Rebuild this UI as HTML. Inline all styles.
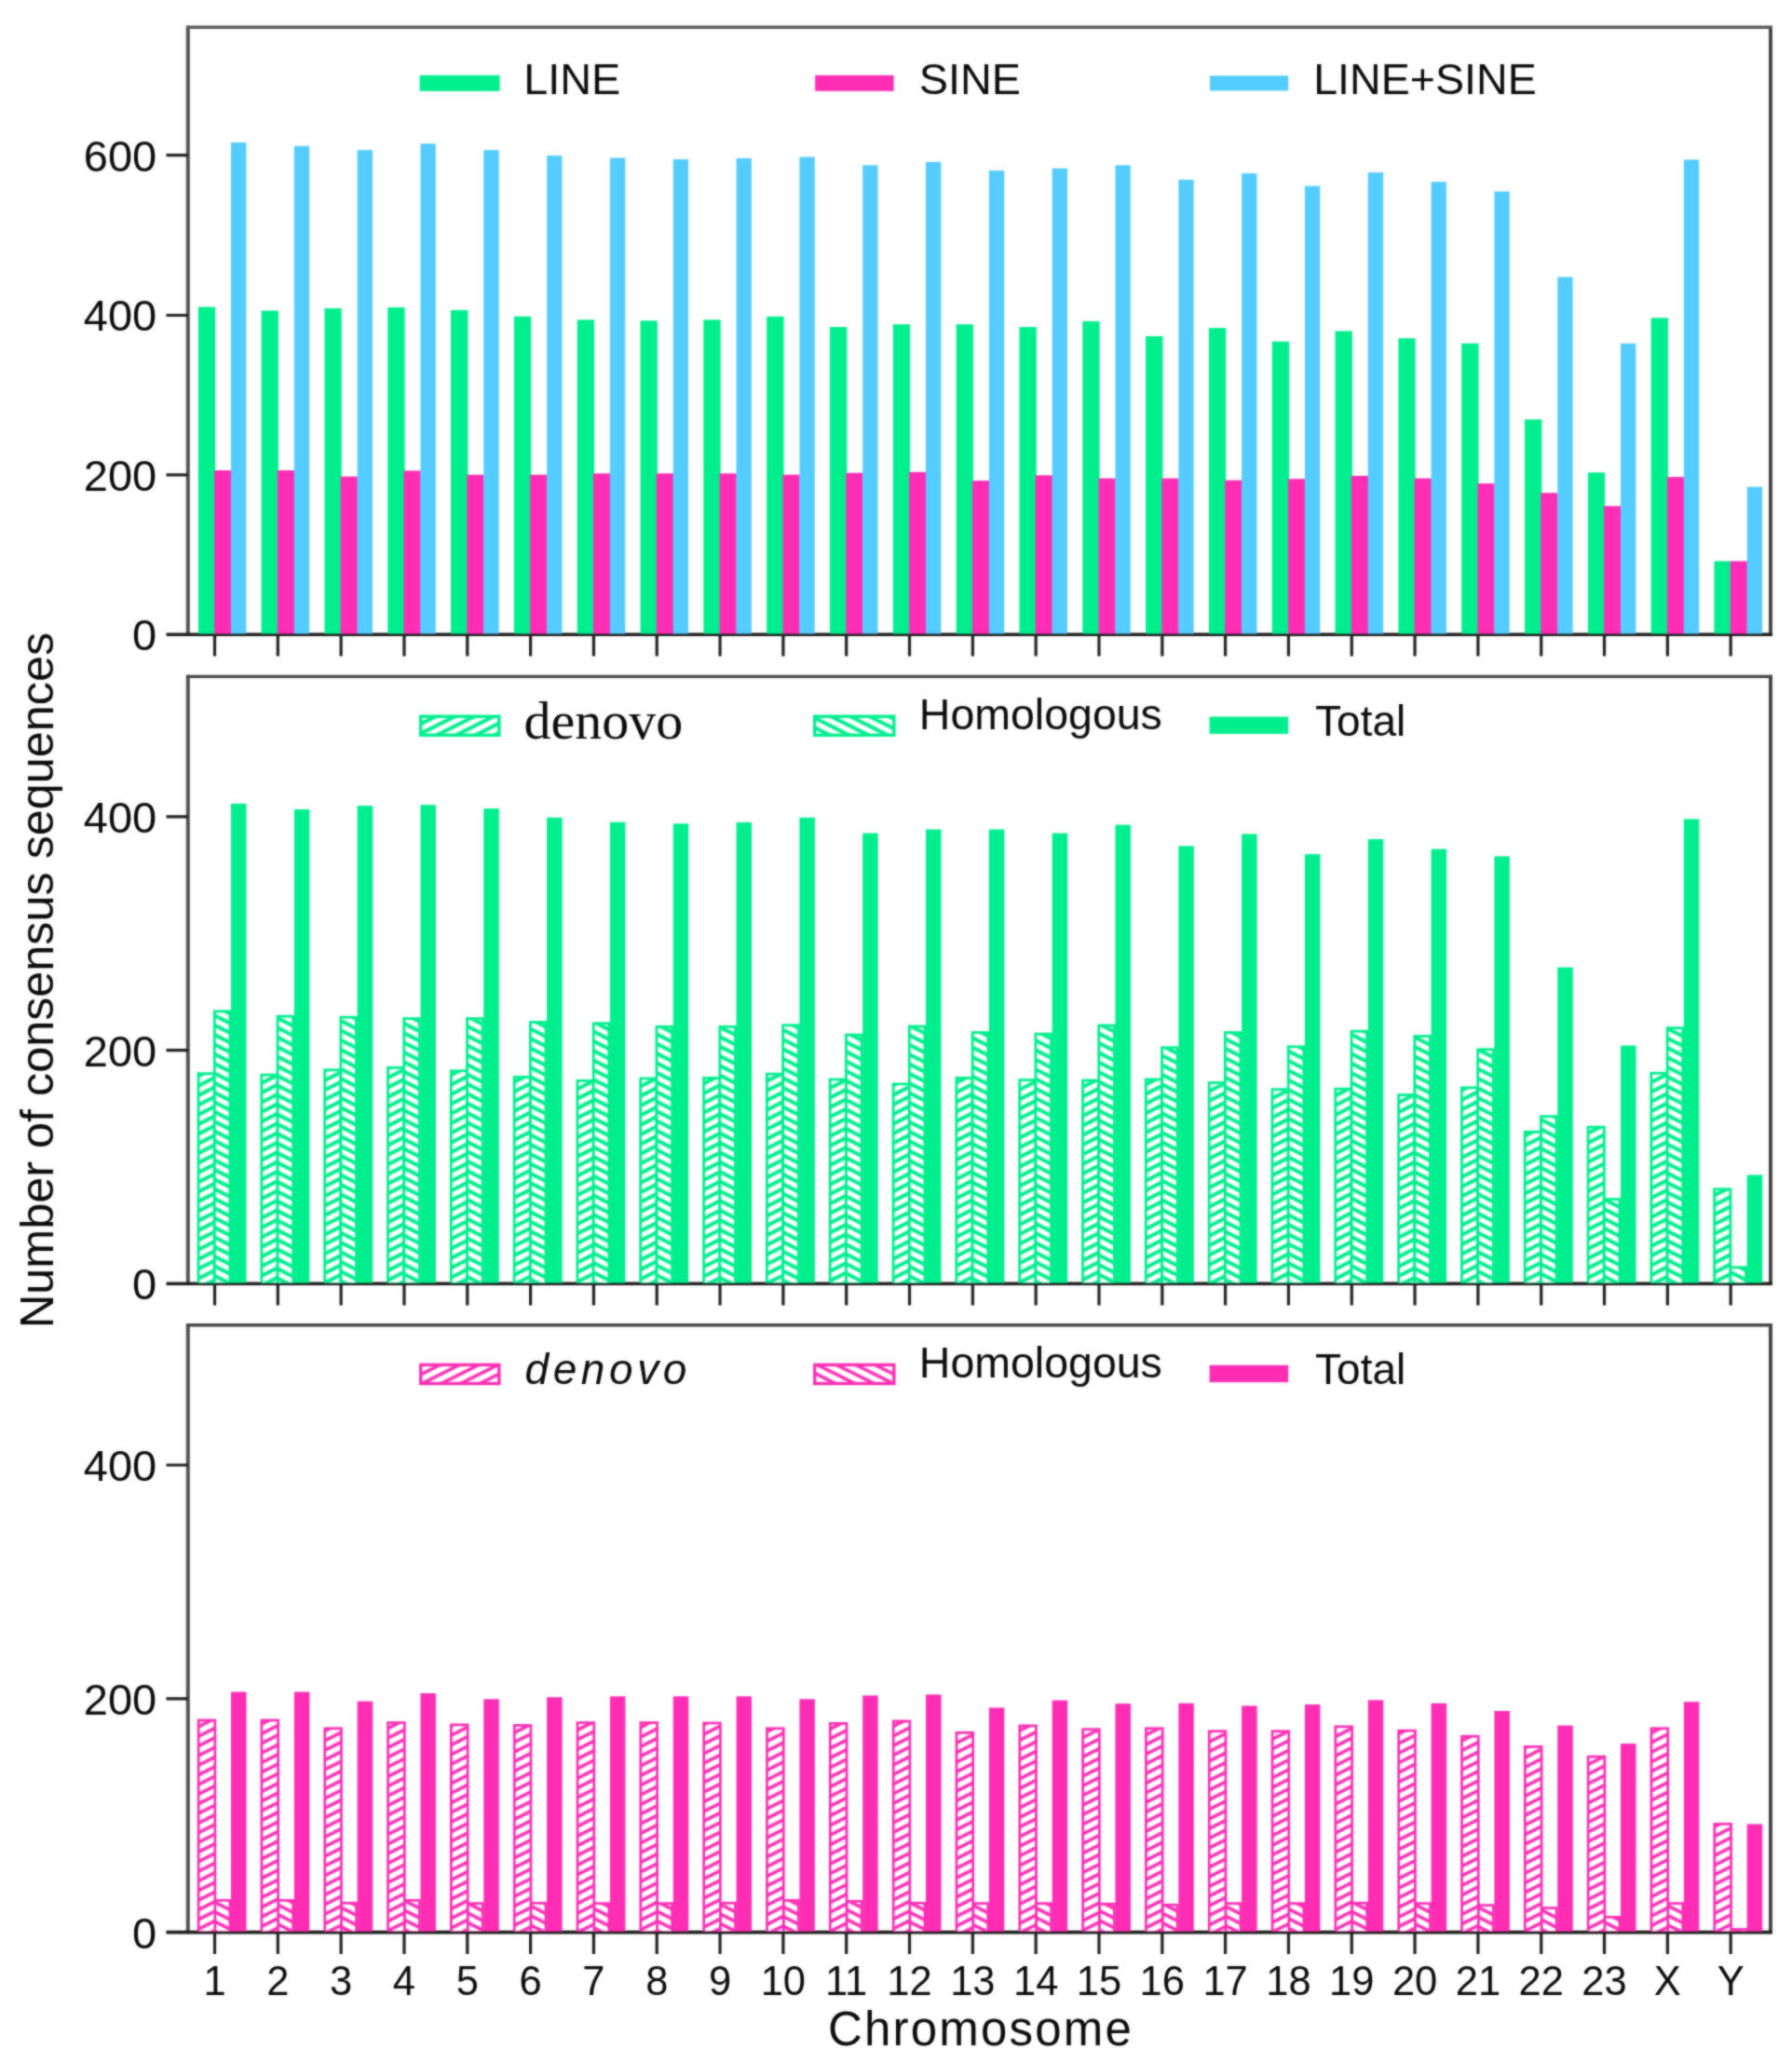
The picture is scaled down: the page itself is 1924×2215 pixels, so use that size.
<!DOCTYPE html>
<html lang="en"><head><meta charset="utf-8"><title>Number of consensus sequences per chromosome</title>
<style>html,body{margin:0;padding:0;background:#fff}svg{display:block}text{font-family:"Liberation Sans",sans-serif;fill:#0a0a0a}.ser{font-family:"Liberation Serif",serif}</style></head><body>
<svg width="1924" height="2215" viewBox="0 0 1924 2215">
<defs>
<filter id="soft" filterUnits="userSpaceOnUse" x="0" y="0" width="1924" height="2215" color-interpolation-filters="sRGB"><feGaussianBlur in="SourceGraphic" stdDeviation="0.9" result="b"/><feComposite in="SourceGraphic" in2="b" operator="arithmetic" k1="0" k2="0.45" k3="0.55" k4="0"/></filter>
<pattern id="gd" patternUnits="userSpaceOnUse" x="0" y="-3.1" width="20.7" height="10.35">
<rect width="20.7" height="10.35" fill="#fff"/>
<polygon fill="#00EE8E" points="0,-20.7 20.7,-31.05 20.7,-26.5 0,-16.15"/>
<polygon fill="#00EE8E" points="0,-10.35 20.7,-20.7 20.7,-16.15 0,-5.8"/>
<polygon fill="#00EE8E" points="0,0 20.7,-10.35 20.7,-5.8 0,4.55"/>
<polygon fill="#00EE8E" points="0,10.35 20.7,0 20.7,4.55 0,14.9"/>
<polygon fill="#00EE8E" points="0,20.7 20.7,10.35 20.7,14.9 0,25.25"/>
</pattern>
<pattern id="gh" patternUnits="userSpaceOnUse" x="0" y="0" width="20.7" height="10.35">
<rect width="20.7" height="10.35" fill="#fff"/>
<polygon fill="#00EE8E" points="0,-20.7 20.7,-10.35 20.7,-5.8 0,-16.15"/>
<polygon fill="#00EE8E" points="0,-10.35 20.7,0 20.7,4.55 0,-5.8"/>
<polygon fill="#00EE8E" points="0,0 20.7,10.35 20.7,14.9 0,4.55"/>
<polygon fill="#00EE8E" points="0,10.35 20.7,20.7 20.7,25.25 0,14.9"/>
<polygon fill="#00EE8E" points="0,20.7 20.7,31.05 20.7,35.6 0,25.25"/>
</pattern>
<pattern id="pd" patternUnits="userSpaceOnUse" x="0" y="2.3" width="20.7" height="10.35">
<rect width="20.7" height="10.35" fill="#fff"/>
<polygon fill="#FF2DB4" points="0,-20.7 20.7,-31.05 20.7,-27.05 0,-16.7"/>
<polygon fill="#FF2DB4" points="0,-10.35 20.7,-20.7 20.7,-16.7 0,-6.35"/>
<polygon fill="#FF2DB4" points="0,0 20.7,-10.35 20.7,-6.35 0,4"/>
<polygon fill="#FF2DB4" points="0,10.35 20.7,0 20.7,4 0,14.35"/>
<polygon fill="#FF2DB4" points="0,20.7 20.7,10.35 20.7,14.35 0,24.7"/>
</pattern>
<pattern id="ph" patternUnits="userSpaceOnUse" x="0" y="0" width="20.7" height="10.35">
<rect width="20.7" height="10.35" fill="#fff"/>
<polygon fill="#FF2DB4" points="0,-20.7 20.7,-10.35 20.7,-6.35 0,-16.7"/>
<polygon fill="#FF2DB4" points="0,-10.35 20.7,0 20.7,4 0,-6.35"/>
<polygon fill="#FF2DB4" points="0,0 20.7,10.35 20.7,14.35 0,4"/>
<polygon fill="#FF2DB4" points="0,10.35 20.7,20.7 20.7,24.7 0,14.35"/>
<polygon fill="#FF2DB4" points="0,20.7 20.7,31.05 20.7,35.05 0,24.7"/>
</pattern>
<clipPath id="c1"><rect x="0" y="29.3" width="1924" height="651.1"/></clipPath>
<clipPath id="c2"><rect x="0" y="726.4" width="1924" height="651"/></clipPath>
<clipPath id="c3"><rect x="0" y="1422.7" width="1924" height="651.1"/></clipPath>
</defs>
<g id="chart" filter="url(#soft)">
<rect width="1924" height="2215" fill="#fff"/>
<g id="axes" fill="none">
<path stroke="#505050" stroke-width="4.0" d="M201.8 27.7V682.9M201.8 724.8V1379.9M201.8 1421.1V2076.3"/>
<path stroke="#3e3e3e" stroke-width="3.8" d="M1901 27.7V682.9M1901 724.8V1379.9M1901 1421.1V2076.3"/>
<path stroke="#585858" stroke-width="3.4" d="M200.1 29.3H1902.7"/>
<path stroke="#444444" stroke-width="3.4" d="M200.1 726.4H1902.7M200.1 1422.7H1902.7"/>
<path stroke="#1e1e1e" stroke-width="3.6" d="M178.5 681.2H1902.7M178.5 1378.2H1902.7M178.5 2074.6H1902.7"/>
<path stroke="#202020" stroke-width="3.2" d="M178.5 509.9H201.8M178.5 338.5H201.8M178.5 166.7H201.8M178.5 1127.6H201.8M178.5 876.8H201.8M178.5 1823.8H201.8M178.5 1573H201.8M230.5 681.2V704.5M298.32 681.2V704.5M366.14 681.2V704.5M433.96 681.2V704.5M501.78 681.2V704.5M569.6 681.2V704.5M637.42 681.2V704.5M705.24 681.2V704.5M773.06 681.2V704.5M840.88 681.2V704.5M908.7 681.2V704.5M976.52 681.2V704.5M1044.34 681.2V704.5M1112.16 681.2V704.5M1179.98 681.2V704.5M1247.8 681.2V704.5M1315.62 681.2V704.5M1383.44 681.2V704.5M1451.26 681.2V704.5M1519.08 681.2V704.5M1586.9 681.2V704.5M1654.72 681.2V704.5M1722.54 681.2V704.5M1790.36 681.2V704.5M1858.18 681.2V704.5M230.5 1378.2V1401.5M298.32 1378.2V1401.5M366.14 1378.2V1401.5M433.96 1378.2V1401.5M501.78 1378.2V1401.5M569.6 1378.2V1401.5M637.42 1378.2V1401.5M705.24 1378.2V1401.5M773.06 1378.2V1401.5M840.88 1378.2V1401.5M908.7 1378.2V1401.5M976.52 1378.2V1401.5M1044.34 1378.2V1401.5M1112.16 1378.2V1401.5M1179.98 1378.2V1401.5M1247.8 1378.2V1401.5M1315.62 1378.2V1401.5M1383.44 1378.2V1401.5M1451.26 1378.2V1401.5M1519.08 1378.2V1401.5M1586.9 1378.2V1401.5M1654.72 1378.2V1401.5M1722.54 1378.2V1401.5M1790.36 1378.2V1401.5M1858.18 1378.2V1401.5M230.5 2074.6V2097.9M298.32 2074.6V2097.9M366.14 2074.6V2097.9M433.96 2074.6V2097.9M501.78 2074.6V2097.9M569.6 2074.6V2097.9M637.42 2074.6V2097.9M705.24 2074.6V2097.9M773.06 2074.6V2097.9M840.88 2074.6V2097.9M908.7 2074.6V2097.9M976.52 2074.6V2097.9M1044.34 2074.6V2097.9M1112.16 2074.6V2097.9M1179.98 2074.6V2097.9M1247.8 2074.6V2097.9M1315.62 2074.6V2097.9M1383.44 2074.6V2097.9M1451.26 2074.6V2097.9M1519.08 2074.6V2097.9M1586.9 2074.6V2097.9M1654.72 2074.6V2097.9M1722.54 2074.6V2097.9M1790.36 2074.6V2097.9M1858.18 2074.6V2097.9"/>
</g>
<g id="panel1-bars" clip-path="url(#c1)">
<rect x="212.8" y="329.6" width="18.3" height="351.6" fill="#00EE8E"/>
<rect x="230.05" y="505" width="18.2" height="176.2" fill="#FF2DB4"/>
<rect x="248" y="152.9" width="16.35" height="528.3" fill="#55CCFF"/>
<rect x="280.62" y="333.5" width="18.3" height="347.7" fill="#00EE8E"/>
<rect x="297.87" y="505" width="18.2" height="176.2" fill="#FF2DB4"/>
<rect x="315.82" y="156.8" width="16.35" height="524.4" fill="#55CCFF"/>
<rect x="348.44" y="331" width="18.3" height="350.2" fill="#00EE8E"/>
<rect x="365.69" y="511.65" width="18.2" height="169.55" fill="#FF2DB4"/>
<rect x="383.64" y="161.1" width="16.35" height="520.1" fill="#55CCFF"/>
<rect x="416.26" y="330" width="18.3" height="351.2" fill="#00EE8E"/>
<rect x="433.51" y="505.4" width="18.2" height="175.8" fill="#FF2DB4"/>
<rect x="451.46" y="154.2" width="16.35" height="527" fill="#55CCFF"/>
<rect x="484.08" y="332.9" width="18.3" height="348.3" fill="#00EE8E"/>
<rect x="501.33" y="509.7" width="18.2" height="171.5" fill="#FF2DB4"/>
<rect x="519.28" y="161.1" width="16.35" height="520.1" fill="#55CCFF"/>
<rect x="551.9" y="339.8" width="18.3" height="341.4" fill="#00EE8E"/>
<rect x="569.15" y="509.7" width="18.2" height="171.5" fill="#FF2DB4"/>
<rect x="587.1" y="167.1" width="16.35" height="514.1" fill="#55CCFF"/>
<rect x="619.72" y="343.3" width="18.3" height="337.9" fill="#00EE8E"/>
<rect x="636.97" y="508.3" width="18.2" height="172.9" fill="#FF2DB4"/>
<rect x="654.92" y="169.5" width="16.35" height="511.7" fill="#55CCFF"/>
<rect x="687.54" y="344.3" width="18.3" height="336.9" fill="#00EE8E"/>
<rect x="704.79" y="508.3" width="18.2" height="172.9" fill="#FF2DB4"/>
<rect x="722.74" y="171" width="16.35" height="510.2" fill="#55CCFF"/>
<rect x="755.36" y="343.3" width="18.3" height="337.9" fill="#00EE8E"/>
<rect x="772.61" y="508.3" width="18.2" height="172.9" fill="#FF2DB4"/>
<rect x="790.56" y="169.9" width="16.35" height="511.3" fill="#55CCFF"/>
<rect x="823.18" y="339.8" width="18.3" height="341.4" fill="#00EE8E"/>
<rect x="840.43" y="509.7" width="18.2" height="171.5" fill="#FF2DB4"/>
<rect x="858.38" y="168.5" width="16.35" height="512.7" fill="#55CCFF"/>
<rect x="891" y="351.1" width="18.3" height="330.1" fill="#00EE8E"/>
<rect x="908.25" y="507.7" width="18.2" height="173.5" fill="#FF2DB4"/>
<rect x="926.2" y="177.3" width="16.35" height="503.9" fill="#55CCFF"/>
<rect x="958.82" y="348.2" width="18.3" height="333" fill="#00EE8E"/>
<rect x="976.07" y="506.8" width="18.2" height="174.4" fill="#FF2DB4"/>
<rect x="994.02" y="173.8" width="16.35" height="507.4" fill="#55CCFF"/>
<rect x="1026.64" y="348.2" width="18.3" height="333" fill="#00EE8E"/>
<rect x="1043.89" y="516.1" width="18.2" height="165.1" fill="#FF2DB4"/>
<rect x="1061.84" y="183.1" width="16.35" height="498.1" fill="#55CCFF"/>
<rect x="1094.46" y="351.1" width="18.3" height="330.1" fill="#00EE8E"/>
<rect x="1111.71" y="510.3" width="18.2" height="170.9" fill="#FF2DB4"/>
<rect x="1129.66" y="180.8" width="16.35" height="500.4" fill="#55CCFF"/>
<rect x="1162.28" y="344.9" width="18.3" height="336.3" fill="#00EE8E"/>
<rect x="1179.53" y="513.6" width="18.2" height="167.6" fill="#FF2DB4"/>
<rect x="1197.48" y="177.3" width="16.35" height="503.9" fill="#55CCFF"/>
<rect x="1230.1" y="360.9" width="18.3" height="320.3" fill="#00EE8E"/>
<rect x="1247.35" y="513.6" width="18.2" height="167.6" fill="#FF2DB4"/>
<rect x="1265.3" y="192.9" width="16.35" height="488.3" fill="#55CCFF"/>
<rect x="1297.92" y="352.1" width="18.3" height="329.1" fill="#00EE8E"/>
<rect x="1315.17" y="515.6" width="18.2" height="165.6" fill="#FF2DB4"/>
<rect x="1333.12" y="186.1" width="16.35" height="495.1" fill="#55CCFF"/>
<rect x="1365.74" y="366.7" width="18.3" height="314.5" fill="#00EE8E"/>
<rect x="1382.99" y="514.2" width="18.2" height="167" fill="#FF2DB4"/>
<rect x="1400.94" y="199.7" width="16.35" height="481.5" fill="#55CCFF"/>
<rect x="1433.56" y="355.4" width="18.3" height="325.8" fill="#00EE8E"/>
<rect x="1450.81" y="510.9" width="18.2" height="170.3" fill="#FF2DB4"/>
<rect x="1468.76" y="185.1" width="16.35" height="496.1" fill="#55CCFF"/>
<rect x="1501.38" y="363.2" width="18.3" height="318" fill="#00EE8E"/>
<rect x="1518.63" y="513.6" width="18.2" height="167.6" fill="#FF2DB4"/>
<rect x="1536.58" y="195.2" width="16.35" height="486" fill="#55CCFF"/>
<rect x="1569.2" y="368.7" width="18.3" height="312.5" fill="#00EE8E"/>
<rect x="1586.45" y="519.1" width="18.2" height="162.1" fill="#FF2DB4"/>
<rect x="1604.4" y="205.6" width="16.35" height="475.6" fill="#55CCFF"/>
<rect x="1637.02" y="450.3" width="18.3" height="230.9" fill="#00EE8E"/>
<rect x="1654.27" y="529.2" width="18.2" height="152" fill="#FF2DB4"/>
<rect x="1672.22" y="297.4" width="16.35" height="383.8" fill="#55CCFF"/>
<rect x="1704.84" y="507.3" width="18.3" height="173.9" fill="#00EE8E"/>
<rect x="1722.09" y="543.3" width="18.2" height="137.9" fill="#FF2DB4"/>
<rect x="1740.04" y="368.7" width="16.35" height="312.5" fill="#55CCFF"/>
<rect x="1772.66" y="341.3" width="18.3" height="339.9" fill="#00EE8E"/>
<rect x="1789.91" y="512.1" width="18.2" height="169.1" fill="#FF2DB4"/>
<rect x="1807.86" y="171.4" width="16.35" height="509.8" fill="#55CCFF"/>
<rect x="1840.48" y="602.5" width="18.3" height="78.7" fill="#00EE8E"/>
<rect x="1857.73" y="602.5" width="18.2" height="78.7" fill="#FF2DB4"/>
<rect x="1875.68" y="522.7" width="16.35" height="158.5" fill="#55CCFF"/>
</g>
<g id="panel2-bars" clip-path="url(#c2)">
<rect x="213" y="1152.7" width="17.25" height="225.5" fill="url(#gd)" stroke="#00EE8E" stroke-width="2.8"/>
<rect x="230.25" y="1085.8" width="16.65" height="292.4" fill="url(#gh)" stroke="#00EE8E" stroke-width="2.8"/>
<rect x="248" y="862.8" width="16.5" height="515.4" fill="#00EE8E"/>
<rect x="280.82" y="1154.1" width="17.25" height="224.1" fill="url(#gd)" stroke="#00EE8E" stroke-width="2.8"/>
<rect x="298.07" y="1091.2" width="16.65" height="287" fill="url(#gh)" stroke="#00EE8E" stroke-width="2.8"/>
<rect x="315.82" y="869" width="16.5" height="509.2" fill="#00EE8E"/>
<rect x="348.64" y="1148.8" width="17.25" height="229.4" fill="url(#gd)" stroke="#00EE8E" stroke-width="2.8"/>
<rect x="365.89" y="1092.2" width="16.65" height="286" fill="url(#gh)" stroke="#00EE8E" stroke-width="2.8"/>
<rect x="383.64" y="865.1" width="16.5" height="513.1" fill="#00EE8E"/>
<rect x="416.46" y="1146.3" width="17.25" height="231.9" fill="url(#gd)" stroke="#00EE8E" stroke-width="2.8"/>
<rect x="433.71" y="1093.6" width="16.65" height="284.6" fill="url(#gh)" stroke="#00EE8E" stroke-width="2.8"/>
<rect x="451.46" y="864.2" width="16.5" height="514" fill="#00EE8E"/>
<rect x="484.28" y="1149.8" width="17.25" height="228.4" fill="url(#gd)" stroke="#00EE8E" stroke-width="2.8"/>
<rect x="501.53" y="1093.6" width="16.65" height="284.6" fill="url(#gh)" stroke="#00EE8E" stroke-width="2.8"/>
<rect x="519.28" y="868.1" width="16.5" height="510.1" fill="#00EE8E"/>
<rect x="552.1" y="1156.4" width="17.25" height="221.8" fill="url(#gd)" stroke="#00EE8E" stroke-width="2.8"/>
<rect x="569.35" y="1097.5" width="16.65" height="280.7" fill="url(#gh)" stroke="#00EE8E" stroke-width="2.8"/>
<rect x="587.1" y="877.8" width="16.5" height="500.4" fill="#00EE8E"/>
<rect x="619.92" y="1160.4" width="17.25" height="217.8" fill="url(#gd)" stroke="#00EE8E" stroke-width="2.8"/>
<rect x="637.17" y="1098.8" width="16.65" height="279.4" fill="url(#gh)" stroke="#00EE8E" stroke-width="2.8"/>
<rect x="654.92" y="882.7" width="16.5" height="495.5" fill="#00EE8E"/>
<rect x="687.74" y="1158" width="17.25" height="220.2" fill="url(#gd)" stroke="#00EE8E" stroke-width="2.8"/>
<rect x="704.99" y="1102.4" width="16.65" height="275.8" fill="url(#gh)" stroke="#00EE8E" stroke-width="2.8"/>
<rect x="722.74" y="884.3" width="16.5" height="493.9" fill="#00EE8E"/>
<rect x="755.56" y="1157.4" width="17.25" height="220.8" fill="url(#gd)" stroke="#00EE8E" stroke-width="2.8"/>
<rect x="772.81" y="1102.4" width="16.65" height="275.8" fill="url(#gh)" stroke="#00EE8E" stroke-width="2.8"/>
<rect x="790.56" y="882.9" width="16.5" height="495.3" fill="#00EE8E"/>
<rect x="823.38" y="1153.1" width="17.25" height="225.1" fill="url(#gd)" stroke="#00EE8E" stroke-width="2.8"/>
<rect x="840.63" y="1100.8" width="16.65" height="277.4" fill="url(#gh)" stroke="#00EE8E" stroke-width="2.8"/>
<rect x="858.38" y="877.8" width="16.5" height="500.4" fill="#00EE8E"/>
<rect x="891.2" y="1159" width="17.25" height="219.2" fill="url(#gd)" stroke="#00EE8E" stroke-width="2.8"/>
<rect x="908.45" y="1111.1" width="16.65" height="267.1" fill="url(#gh)" stroke="#00EE8E" stroke-width="2.8"/>
<rect x="926.2" y="894.6" width="16.5" height="483.6" fill="#00EE8E"/>
<rect x="959.02" y="1163.9" width="17.25" height="214.3" fill="url(#gd)" stroke="#00EE8E" stroke-width="2.8"/>
<rect x="976.27" y="1102" width="16.65" height="276.2" fill="url(#gh)" stroke="#00EE8E" stroke-width="2.8"/>
<rect x="994.02" y="890.5" width="16.5" height="487.7" fill="#00EE8E"/>
<rect x="1026.84" y="1157.4" width="17.25" height="220.8" fill="url(#gd)" stroke="#00EE8E" stroke-width="2.8"/>
<rect x="1044.09" y="1108.6" width="16.65" height="269.6" fill="url(#gh)" stroke="#00EE8E" stroke-width="2.8"/>
<rect x="1061.84" y="890.5" width="16.5" height="487.7" fill="#00EE8E"/>
<rect x="1094.66" y="1159.6" width="17.25" height="218.6" fill="url(#gd)" stroke="#00EE8E" stroke-width="2.8"/>
<rect x="1111.91" y="1110.2" width="16.65" height="268" fill="url(#gh)" stroke="#00EE8E" stroke-width="2.8"/>
<rect x="1129.66" y="894.6" width="16.5" height="483.6" fill="#00EE8E"/>
<rect x="1162.48" y="1160" width="17.25" height="218.2" fill="url(#gd)" stroke="#00EE8E" stroke-width="2.8"/>
<rect x="1179.73" y="1101" width="16.65" height="277.2" fill="url(#gh)" stroke="#00EE8E" stroke-width="2.8"/>
<rect x="1197.48" y="885.6" width="16.5" height="492.6" fill="#00EE8E"/>
<rect x="1230.3" y="1159" width="17.25" height="219.2" fill="url(#gd)" stroke="#00EE8E" stroke-width="2.8"/>
<rect x="1247.55" y="1124.8" width="16.65" height="253.4" fill="url(#gh)" stroke="#00EE8E" stroke-width="2.8"/>
<rect x="1265.3" y="908.3" width="16.5" height="469.9" fill="#00EE8E"/>
<rect x="1298.12" y="1162.5" width="17.25" height="215.7" fill="url(#gd)" stroke="#00EE8E" stroke-width="2.8"/>
<rect x="1315.37" y="1108.6" width="16.65" height="269.6" fill="url(#gh)" stroke="#00EE8E" stroke-width="2.8"/>
<rect x="1333.12" y="895.4" width="16.5" height="482.8" fill="#00EE8E"/>
<rect x="1365.94" y="1169.7" width="17.25" height="208.5" fill="url(#gd)" stroke="#00EE8E" stroke-width="2.8"/>
<rect x="1383.19" y="1123.8" width="16.65" height="254.4" fill="url(#gh)" stroke="#00EE8E" stroke-width="2.8"/>
<rect x="1400.94" y="917.1" width="16.5" height="461.1" fill="#00EE8E"/>
<rect x="1433.76" y="1169.15" width="17.25" height="209.05" fill="url(#gd)" stroke="#00EE8E" stroke-width="2.8"/>
<rect x="1451.01" y="1107.2" width="16.65" height="271" fill="url(#gh)" stroke="#00EE8E" stroke-width="2.8"/>
<rect x="1468.76" y="900.9" width="16.5" height="477.3" fill="#00EE8E"/>
<rect x="1501.58" y="1175.6" width="17.25" height="202.6" fill="url(#gd)" stroke="#00EE8E" stroke-width="2.8"/>
<rect x="1518.83" y="1112.5" width="16.65" height="265.7" fill="url(#gh)" stroke="#00EE8E" stroke-width="2.8"/>
<rect x="1536.58" y="911.6" width="16.5" height="466.6" fill="#00EE8E"/>
<rect x="1569.4" y="1167.8" width="17.25" height="210.4" fill="url(#gd)" stroke="#00EE8E" stroke-width="2.8"/>
<rect x="1586.65" y="1126.8" width="16.65" height="251.4" fill="url(#gh)" stroke="#00EE8E" stroke-width="2.8"/>
<rect x="1604.4" y="919.4" width="16.5" height="458.8" fill="#00EE8E"/>
<rect x="1637.22" y="1215.3" width="17.25" height="162.9" fill="url(#gd)" stroke="#00EE8E" stroke-width="2.8"/>
<rect x="1654.47" y="1198.7" width="16.65" height="179.5" fill="url(#gh)" stroke="#00EE8E" stroke-width="2.8"/>
<rect x="1672.22" y="1038.6" width="16.5" height="339.6" fill="#00EE8E"/>
<rect x="1705.04" y="1210.1" width="17.25" height="168.1" fill="url(#gd)" stroke="#00EE8E" stroke-width="2.8"/>
<rect x="1722.29" y="1287.6" width="16.65" height="90.6" fill="url(#gh)" stroke="#00EE8E" stroke-width="2.8"/>
<rect x="1740.04" y="1122.6" width="16.5" height="255.6" fill="#00EE8E"/>
<rect x="1772.86" y="1152.2" width="17.25" height="226" fill="url(#gd)" stroke="#00EE8E" stroke-width="2.8"/>
<rect x="1790.11" y="1103.7" width="16.65" height="274.5" fill="url(#gh)" stroke="#00EE8E" stroke-width="2.8"/>
<rect x="1807.86" y="879.4" width="16.5" height="498.8" fill="#00EE8E"/>
<rect x="1840.68" y="1276.8" width="17.25" height="101.4" fill="url(#gd)" stroke="#00EE8E" stroke-width="2.8"/>
<rect x="1857.93" y="1360.8" width="16.65" height="17.4" fill="url(#gh)" stroke="#00EE8E" stroke-width="2.8"/>
<rect x="1875.68" y="1261.5" width="16.5" height="116.7" fill="#00EE8E"/>
</g>
<g id="panel3-bars" clip-path="url(#c3)">
<rect x="230.65" y="2040.4" width="16.25" height="34.2" fill="url(#ph)" stroke="#FF2DB4" stroke-width="2.7"/>
<rect x="213.1" y="1847" width="17.75" height="227.6" fill="url(#pd)" stroke="#FF2DB4" stroke-width="2.7"/>
<rect x="248" y="1816.5" width="16.5" height="258.1" fill="#FF2DB4"/>
<rect x="298.47" y="2040.4" width="16.25" height="34.2" fill="url(#ph)" stroke="#FF2DB4" stroke-width="2.7"/>
<rect x="280.92" y="1847" width="17.75" height="227.6" fill="url(#pd)" stroke="#FF2DB4" stroke-width="2.7"/>
<rect x="315.82" y="1816.5" width="16.5" height="258.1" fill="#FF2DB4"/>
<rect x="366.29" y="2043.3" width="16.25" height="31.3" fill="url(#ph)" stroke="#FF2DB4" stroke-width="2.7"/>
<rect x="348.74" y="1855.8" width="17.75" height="218.8" fill="url(#pd)" stroke="#FF2DB4" stroke-width="2.7"/>
<rect x="383.64" y="1826.6" width="16.5" height="248" fill="#FF2DB4"/>
<rect x="434.11" y="2040.4" width="16.25" height="34.2" fill="url(#ph)" stroke="#FF2DB4" stroke-width="2.7"/>
<rect x="416.56" y="1849.6" width="17.75" height="225" fill="url(#pd)" stroke="#FF2DB4" stroke-width="2.7"/>
<rect x="451.46" y="1818" width="16.5" height="256.6" fill="#FF2DB4"/>
<rect x="501.93" y="2043.7" width="16.25" height="30.9" fill="url(#ph)" stroke="#FF2DB4" stroke-width="2.7"/>
<rect x="484.38" y="1851.9" width="17.75" height="222.7" fill="url(#pd)" stroke="#FF2DB4" stroke-width="2.7"/>
<rect x="519.28" y="1824.3" width="16.5" height="250.3" fill="#FF2DB4"/>
<rect x="569.75" y="2043.3" width="16.25" height="31.3" fill="url(#ph)" stroke="#FF2DB4" stroke-width="2.7"/>
<rect x="552.2" y="1852.5" width="17.75" height="222.1" fill="url(#pd)" stroke="#FF2DB4" stroke-width="2.7"/>
<rect x="587.1" y="1822.3" width="16.5" height="252.3" fill="#FF2DB4"/>
<rect x="637.57" y="2043.7" width="16.25" height="30.9" fill="url(#ph)" stroke="#FF2DB4" stroke-width="2.7"/>
<rect x="620.02" y="1849.6" width="17.75" height="225" fill="url(#pd)" stroke="#FF2DB4" stroke-width="2.7"/>
<rect x="654.92" y="1821.35" width="16.5" height="253.25" fill="#FF2DB4"/>
<rect x="705.39" y="2043.7" width="16.25" height="30.9" fill="url(#ph)" stroke="#FF2DB4" stroke-width="2.7"/>
<rect x="687.84" y="1849.6" width="17.75" height="225" fill="url(#pd)" stroke="#FF2DB4" stroke-width="2.7"/>
<rect x="722.74" y="1821.35" width="16.5" height="253.25" fill="#FF2DB4"/>
<rect x="773.21" y="2043.3" width="16.25" height="31.3" fill="url(#ph)" stroke="#FF2DB4" stroke-width="2.7"/>
<rect x="755.66" y="1850" width="17.75" height="224.6" fill="url(#pd)" stroke="#FF2DB4" stroke-width="2.7"/>
<rect x="790.56" y="1821.35" width="16.5" height="253.25" fill="#FF2DB4"/>
<rect x="841.03" y="2040.4" width="16.25" height="34.2" fill="url(#ph)" stroke="#FF2DB4" stroke-width="2.7"/>
<rect x="823.48" y="1855.8" width="17.75" height="218.8" fill="url(#pd)" stroke="#FF2DB4" stroke-width="2.7"/>
<rect x="858.38" y="1824.3" width="16.5" height="250.3" fill="#FF2DB4"/>
<rect x="908.85" y="2041.4" width="16.25" height="33.2" fill="url(#ph)" stroke="#FF2DB4" stroke-width="2.7"/>
<rect x="891.3" y="1850.4" width="17.75" height="224.2" fill="url(#pd)" stroke="#FF2DB4" stroke-width="2.7"/>
<rect x="926.2" y="1820.4" width="16.5" height="254.2" fill="#FF2DB4"/>
<rect x="976.67" y="2043.3" width="16.25" height="31.3" fill="url(#ph)" stroke="#FF2DB4" stroke-width="2.7"/>
<rect x="959.12" y="1848" width="17.75" height="226.6" fill="url(#pd)" stroke="#FF2DB4" stroke-width="2.7"/>
<rect x="994.02" y="1819.4" width="16.5" height="255.2" fill="#FF2DB4"/>
<rect x="1044.49" y="2043.7" width="16.25" height="30.9" fill="url(#ph)" stroke="#FF2DB4" stroke-width="2.7"/>
<rect x="1026.94" y="1860.3" width="17.75" height="214.3" fill="url(#pd)" stroke="#FF2DB4" stroke-width="2.7"/>
<rect x="1061.84" y="1833.5" width="16.5" height="241.1" fill="#FF2DB4"/>
<rect x="1112.31" y="2043.7" width="16.25" height="30.9" fill="url(#ph)" stroke="#FF2DB4" stroke-width="2.7"/>
<rect x="1094.76" y="1852.9" width="17.75" height="221.7" fill="url(#pd)" stroke="#FF2DB4" stroke-width="2.7"/>
<rect x="1129.66" y="1825.6" width="16.5" height="249" fill="#FF2DB4"/>
<rect x="1180.13" y="2044.3" width="16.25" height="30.3" fill="url(#ph)" stroke="#FF2DB4" stroke-width="2.7"/>
<rect x="1162.58" y="1856.8" width="17.75" height="217.8" fill="url(#pd)" stroke="#FF2DB4" stroke-width="2.7"/>
<rect x="1197.48" y="1829.2" width="16.5" height="245.4" fill="#FF2DB4"/>
<rect x="1247.95" y="2045.3" width="16.25" height="29.3" fill="url(#ph)" stroke="#FF2DB4" stroke-width="2.7"/>
<rect x="1230.4" y="1855.8" width="17.75" height="218.8" fill="url(#pd)" stroke="#FF2DB4" stroke-width="2.7"/>
<rect x="1265.3" y="1828.8" width="16.5" height="245.8" fill="#FF2DB4"/>
<rect x="1315.77" y="2043.7" width="16.25" height="30.9" fill="url(#ph)" stroke="#FF2DB4" stroke-width="2.7"/>
<rect x="1298.22" y="1858.8" width="17.75" height="215.8" fill="url(#pd)" stroke="#FF2DB4" stroke-width="2.7"/>
<rect x="1333.12" y="1831.5" width="16.5" height="243.1" fill="#FF2DB4"/>
<rect x="1383.59" y="2043.7" width="16.25" height="30.9" fill="url(#ph)" stroke="#FF2DB4" stroke-width="2.7"/>
<rect x="1366.04" y="1858.8" width="17.75" height="215.8" fill="url(#pd)" stroke="#FF2DB4" stroke-width="2.7"/>
<rect x="1400.94" y="1830.1" width="16.5" height="244.5" fill="#FF2DB4"/>
<rect x="1451.41" y="2043.3" width="16.25" height="31.3" fill="url(#ph)" stroke="#FF2DB4" stroke-width="2.7"/>
<rect x="1433.86" y="1853.9" width="17.75" height="220.7" fill="url(#pd)" stroke="#FF2DB4" stroke-width="2.7"/>
<rect x="1468.76" y="1825.3" width="16.5" height="249.3" fill="#FF2DB4"/>
<rect x="1519.23" y="2043.7" width="16.25" height="30.9" fill="url(#ph)" stroke="#FF2DB4" stroke-width="2.7"/>
<rect x="1501.68" y="1858.2" width="17.75" height="216.4" fill="url(#pd)" stroke="#FF2DB4" stroke-width="2.7"/>
<rect x="1536.58" y="1828.8" width="16.5" height="245.8" fill="#FF2DB4"/>
<rect x="1587.05" y="2045.7" width="16.25" height="28.9" fill="url(#ph)" stroke="#FF2DB4" stroke-width="2.7"/>
<rect x="1569.5" y="1864.2" width="17.75" height="210.4" fill="url(#pd)" stroke="#FF2DB4" stroke-width="2.7"/>
<rect x="1604.4" y="1837" width="16.5" height="237.6" fill="#FF2DB4"/>
<rect x="1654.87" y="2048.6" width="16.25" height="26" fill="url(#ph)" stroke="#FF2DB4" stroke-width="2.7"/>
<rect x="1637.32" y="1875.4" width="17.75" height="199.2" fill="url(#pd)" stroke="#FF2DB4" stroke-width="2.7"/>
<rect x="1672.22" y="1852.6" width="16.5" height="222" fill="#FF2DB4"/>
<rect x="1722.69" y="2058.4" width="16.25" height="16.2" fill="url(#ph)" stroke="#FF2DB4" stroke-width="2.7"/>
<rect x="1705.14" y="1886.1" width="17.75" height="188.5" fill="url(#pd)" stroke="#FF2DB4" stroke-width="2.7"/>
<rect x="1740.04" y="1872.1" width="16.5" height="202.5" fill="#FF2DB4"/>
<rect x="1790.51" y="2043.7" width="16.25" height="30.9" fill="url(#ph)" stroke="#FF2DB4" stroke-width="2.7"/>
<rect x="1772.96" y="1855.8" width="17.75" height="218.8" fill="url(#pd)" stroke="#FF2DB4" stroke-width="2.7"/>
<rect x="1807.86" y="1827.2" width="16.5" height="247.4" fill="#FF2DB4"/>
<rect x="1858.33" y="2071.5" width="16.25" height="3.1" fill="url(#ph)" stroke="#FF2DB4" stroke-width="2.7"/>
<rect x="1840.78" y="1958.4" width="17.75" height="116.2" fill="url(#pd)" stroke="#FF2DB4" stroke-width="2.7"/>
<rect x="1875.68" y="1958.5" width="16.5" height="116.1" fill="#FF2DB4"/>
</g>
<g id="labels">
<text x="168.2" y="698.1" font-size="47" text-anchor="end">0</text>
<text x="168.2" y="526.8" font-size="47" text-anchor="end">200</text>
<text x="168.2" y="355.4" font-size="47" text-anchor="end">400</text>
<text x="168.2" y="183.6" font-size="47" text-anchor="end">600</text>
<text x="168.2" y="1395.1" font-size="47" text-anchor="end">0</text>
<text x="168.2" y="1144.5" font-size="47" text-anchor="end">200</text>
<text x="168.2" y="893.7" font-size="47" text-anchor="end">400</text>
<text x="168.2" y="2091.5" font-size="47" text-anchor="end">0</text>
<text x="168.2" y="1840.7" font-size="47" text-anchor="end">200</text>
<text x="168.2" y="1589.9" font-size="47" text-anchor="end">400</text>
<text x="230.5" y="2141.8" font-size="43.5" text-anchor="middle">1</text>
<text x="298.32" y="2141.8" font-size="43.5" text-anchor="middle">2</text>
<text x="366.14" y="2141.8" font-size="43.5" text-anchor="middle">3</text>
<text x="433.96" y="2141.8" font-size="43.5" text-anchor="middle">4</text>
<text x="501.78" y="2141.8" font-size="43.5" text-anchor="middle">5</text>
<text x="569.6" y="2141.8" font-size="43.5" text-anchor="middle">6</text>
<text x="637.42" y="2141.8" font-size="43.5" text-anchor="middle">7</text>
<text x="705.24" y="2141.8" font-size="43.5" text-anchor="middle">8</text>
<text x="773.06" y="2141.8" font-size="43.5" text-anchor="middle">9</text>
<text x="840.88" y="2141.8" font-size="43.5" text-anchor="middle">10</text>
<text x="908.7" y="2141.8" font-size="43.5" text-anchor="middle">11</text>
<text x="976.52" y="2141.8" font-size="43.5" text-anchor="middle">12</text>
<text x="1044.34" y="2141.8" font-size="43.5" text-anchor="middle">13</text>
<text x="1112.16" y="2141.8" font-size="43.5" text-anchor="middle">14</text>
<text x="1179.98" y="2141.8" font-size="43.5" text-anchor="middle">15</text>
<text x="1247.8" y="2141.8" font-size="43.5" text-anchor="middle">16</text>
<text x="1315.62" y="2141.8" font-size="43.5" text-anchor="middle">17</text>
<text x="1383.44" y="2141.8" font-size="43.5" text-anchor="middle">18</text>
<text x="1451.26" y="2141.8" font-size="43.5" text-anchor="middle">19</text>
<text x="1519.08" y="2141.8" font-size="43.5" text-anchor="middle">20</text>
<text x="1586.9" y="2141.8" font-size="43.5" text-anchor="middle">21</text>
<text x="1654.72" y="2141.8" font-size="43.5" text-anchor="middle">22</text>
<text x="1722.54" y="2141.8" font-size="43.5" text-anchor="middle">23</text>
<text x="1790.36" y="2141.8" font-size="43.5" text-anchor="middle">X</text>
<text x="1858.18" y="2141.8" font-size="43.5" text-anchor="middle">Y</text>
<text x="889" y="2196.2" font-size="51" letter-spacing="2.2">Chromosome</text>
<text transform="translate(56.8 1052.4) rotate(-90)" font-size="50.35" text-anchor="middle">Number of consensus sequences</text>
</g>
<g id="legend1">
<rect x="450.6" y="80.8" width="86" height="17" fill="#00EE8E"/>
<rect x="875.2" y="80.8" width="84.4" height="17" fill="#FF2DB4"/>
<rect x="1299" y="81.2" width="84.2" height="16.2" fill="#55CCFF"/>
<text x="562.2" y="100.5" font-size="46.8">LINE</text>
<text x="986.8" y="100.5" font-size="46.8">SINE</text>
<text x="1410.2" y="100.5" font-size="46.6">LINE+SINE</text>
</g>
<g id="legend2">
<rect x="451.7" y="769.2" width="84.1" height="20.1" fill="url(#gd)" stroke="#00EE8E" stroke-width="3.4"/>
<rect x="874.7" y="769.2" width="85.1" height="20.1" fill="url(#gh)" stroke="#00EE8E" stroke-width="3.4"/>
<rect x="1298.6" y="769.5" width="84.6" height="18.4" fill="#00EE8E"/>
<text class="ser" x="562.5" y="793" font-size="58">denovo</text>
<text x="986.8" y="782.6" font-size="46.5">Homologous</text>
<text x="1412.1" y="789.9" font-size="46">Total</text>
</g>
<g id="legend3">
<rect x="451.7" y="1465.4" width="84.1" height="20.1" fill="url(#pd)" stroke="#FF2DB4" stroke-width="3.4"/>
<rect x="874.7" y="1465.4" width="85.1" height="20.1" fill="url(#ph)" stroke="#FF2DB4" stroke-width="3.4"/>
<rect x="1298.6" y="1465.7" width="84.6" height="18.4" fill="#FF2DB4"/>
<text x="563.5" y="1485.9" font-size="46" font-style="italic" letter-spacing="4.6">denovo</text>
<text x="986.8" y="1478.8" font-size="46.5">Homologous</text>
<text x="1412.1" y="1486.1" font-size="46">Total</text>
</g>
</g>
</svg></body></html>
